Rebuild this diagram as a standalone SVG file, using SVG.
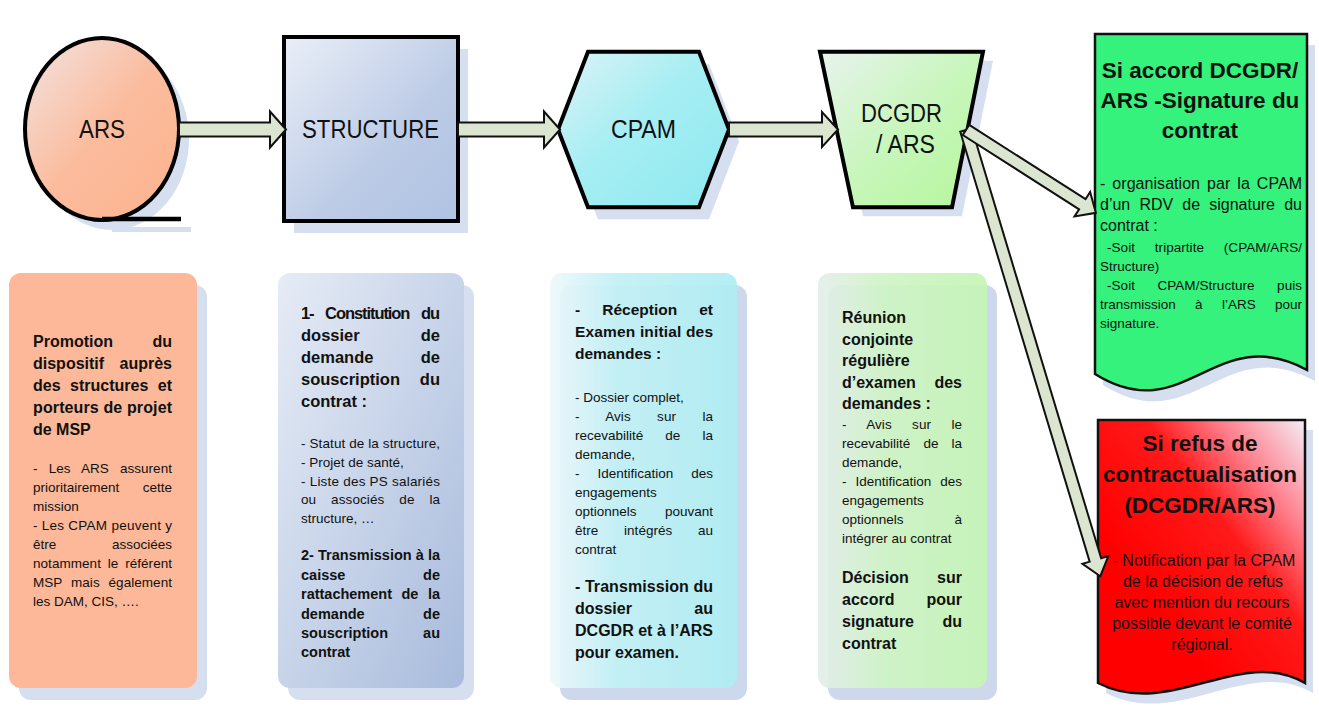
<svg xmlns="http://www.w3.org/2000/svg" width="1319" height="708" viewBox="0 0 1319 708">
<defs>
<linearGradient id="gArs" x1="0" y1="0" x2="1" y2="1"><stop offset="0" stop-color="#f2e4e2"/><stop offset="0.5" stop-color="#fbbc9e"/><stop offset="1" stop-color="#fdb28c"/></linearGradient>
<linearGradient id="gStruct" x1="0" y1="0" x2="1" y2="1"><stop offset="0" stop-color="#eaeff8"/><stop offset="0.6" stop-color="#bccbe6"/><stop offset="1" stop-color="#b0c3e3"/></linearGradient>
<linearGradient id="gCpam" x1="0" y1="0" x2="1" y2="1"><stop offset="0" stop-color="#dcf3f6"/><stop offset="0.45" stop-color="#a6eef3"/><stop offset="1" stop-color="#8ce9ef"/></linearGradient>
<linearGradient id="gDcg" x1="0" y1="0" x2="1" y2="1"><stop offset="0" stop-color="#e8f3ee"/><stop offset="0.5" stop-color="#c8f6bc"/><stop offset="1" stop-color="#b4f79a"/></linearGradient>
<linearGradient id="gBox2" x1="0" y1="0" x2="1" y2="1"><stop offset="0" stop-color="#e6ecf6"/><stop offset="1" stop-color="#a8bbdc"/></linearGradient>
<linearGradient id="gBox3" x1="0" y1="0" x2="1" y2="0"><stop offset="0" stop-color="#eef8fa"/><stop offset="0.35" stop-color="#c2f1f5"/><stop offset="1" stop-color="#aeedf2"/></linearGradient>
<linearGradient id="gBox4" x1="0" y1="0" x2="1" y2="0"><stop offset="0" stop-color="#e4eeea"/><stop offset="0.4" stop-color="#cff4c5"/><stop offset="1" stop-color="#c4f5b5"/></linearGradient>
<linearGradient id="gRed" x1="1" y1="0" x2="0.3" y2="0.7"><stop offset="0" stop-color="#f3eef6"/><stop offset="0.3" stop-color="#ff7e8c"/><stop offset="0.55" stop-color="#ff1a1a"/><stop offset="1" stop-color="#ff0000"/></linearGradient>
</defs>
<style>
text{font-family:"Liberation Sans",Arial,sans-serif;fill:#111}
.sh{fill:#d5dff0}
.n{stroke:#000;stroke-width:4;stroke-linejoin:miter}
.doc{stroke:#111;stroke-width:2.5}
.arr{fill:#dce5cf;stroke:#111;stroke-width:2;stroke-linejoin:miter}
.t{font-size:25.5px}
.h{font-size:22.5px;font-weight:bold;text-anchor:middle}
.b16{font-size:16px;font-weight:bold}
.b165{font-size:16.5px;font-weight:bold}
.b155{font-size:15.5px;font-weight:bold}
.b145{font-size:14.5px;font-weight:bold}
.r{font-size:13.5px}
.g16{font-size:16px}
.rb{font-size:16px;text-anchor:middle}
.e{text-anchor:end}
</style>
<rect width="1319" height="708" fill="#fff"/>

<g id="node-ars">
<ellipse cx="112" cy="139" rx="77" ry="91" class="sh"/>
<path d="M112,229.5 H191" stroke="#d5dff0" stroke-width="5"/>
<ellipse cx="102" cy="129" rx="77" ry="91" fill="url(#gArs)" class="n"/>
<path d="M102,219 H181" stroke="#000" stroke-width="4.5"/>
<text class="t" x="79" y="138.3" textLength="46" lengthAdjust="spacingAndGlyphs">ARS</text>
</g>

<g id="node-structure">
<rect x="294" y="49" width="174" height="184" class="sh"/>
<rect x="284" y="37" width="174" height="184" fill="url(#gStruct)" class="n"/>
<text class="t" x="302" y="138.3" textLength="137" lengthAdjust="spacingAndGlyphs">STRUCTURE</text>
</g>

<g id="node-cpam">
<polygon points="568,141.5 598,63.7 709,63.7 739,141.5 709,219.3 598,219.3" class="sh"/>
<polygon points="558,129.5 588,51.7 699,51.7 729,129.5 699,207.3 588,207.3" fill="url(#gCpam)" class="n"/>
<text class="t" x="611" y="138.3" textLength="65" lengthAdjust="spacingAndGlyphs">CPAM</text>
</g>

<g id="node-dcgdr">
<polygon points="830,60.7 993,60.7 962,216.3 863,216.3" class="sh"/>
<polygon points="820,51.7 983,51.7 952,207.3 853,207.3" fill="url(#gDcg)" class="n"/>
<text class="t" x="861" y="121.7" textLength="81" lengthAdjust="spacingAndGlyphs">DCGDR</text>
<text class="t" x="876" y="153.3" textLength="59" lengthAdjust="spacingAndGlyphs">/ ARS</text>
</g>

<g id="node-accord">
<path d="M1095,34 H1307 V370 C1215,320 1185,430 1095,374 Z" class="sh" transform="translate(8,11)"/>
<path d="M1095,34 H1307 V370 C1215,320 1185,430 1095,374 Z" fill="#34f27c" class="doc"/>
<text class="h" x="1200" y="78">Si accord DCGDR/</text>
<text class="h" x="1200" y="108">ARS -Signature du</text>
<text class="h" x="1200" y="138">contrat</text>
<text class="g16" x="1100" y="189" textLength="202" style="word-spacing:2.5px">- organisation par la CPAM</text>
<text class="g16" x="1100" y="210" textLength="202" style="word-spacing:4.8px">d’un RDV de signature du</text>
<text class="g16" x="1100" y="231">contrat :</text>
<text class="r" x="1107" y="252" textLength="195" style="word-spacing:16px">-Soit tripartite (CPAM/ARS/</text>
<text class="r" x="1100" y="271">Structure)</text>
<text class="r" x="1107" y="290" textLength="195" style="word-spacing:18.7px">-Soit CPAM/Structure puis</text>
<text class="r" x="1100" y="309" textLength="202" style="word-spacing:15.6px">transmission à l’ARS pour</text>
<text class="r" x="1100" y="328">signature.</text>
</g>

<g id="node-refus">
<path d="M1098,420 H1305 V683 C1240,645 1170,720 1098,683 Z" class="sh" transform="translate(8,10)"/>
<path d="M1098,420 H1305 V683 C1240,645 1170,720 1098,683 Z" fill="url(#gRed)" class="doc"/>
<text class="h" x="1200" y="451">Si refus de</text>
<text class="h" x="1200" y="482">contractualisation</text>
<text class="h" x="1200" y="513">(DCGDR/ARS)</text>
<text class="rb" x="1204" y="565.5">- Notification par la CPAM</text>
<text class="rb" x="1203" y="586.5">de la décision de refus</text>
<text class="rb" x="1202" y="607.5">avec mention du recours</text>
<text class="rb" x="1202" y="628.5">possible devant le comité</text>
<text class="rb" x="1202" y="649.5">régional.</text>
</g>

<g id="box-ars">
<rect x="19" y="285" width="188" height="415" rx="12" class="sh"/>
<rect x="9" y="273" width="188" height="415" rx="12" fill="#fcb898"/>
<text class="b16" x="33" y="347">Promotion</text><text class="b16 e" x="172" y="347">du</text>
<text class="b16" x="33" y="369">dispositif</text><text class="b16 e" x="172" y="369">auprès</text>
<text class="b16" x="33" y="391" textLength="139" style="word-spacing:5px">des structures et</text>
<text class="b16" x="33" y="413" textLength="139">porteurs de projet</text>
<text class="b16" x="33" y="435">de MSP</text>
<text class="r" x="33" y="473" textLength="139" style="word-spacing:7.3px">- Les ARS assurent</text>
<text class="r" x="33" y="492">prioritairement</text><text class="r e" x="172" y="492">cette</text>
<text class="r" x="33" y="511">mission</text>
<text class="r" x="33" y="530" textLength="139">- Les CPAM peuvent y</text>
<text class="r" x="33" y="549">être</text><text class="r e" x="172" y="549">associées</text>
<text class="r" x="33" y="568" textLength="139" style="word-spacing:3px">notamment le référent</text>
<text class="r" x="33" y="587" textLength="139" style="word-spacing:5px">MSP mais également</text>
<text class="r" x="33" y="606">les DAM, CIS, ….</text>
</g>

<g id="box-structure">
<rect x="288" y="285" width="186" height="415" rx="12" class="sh"/>
<rect x="278" y="273" width="186" height="415" rx="12" fill="url(#gBox2)"/>
<text class="b165" x="301" y="318.5" textLength="139" style="word-spacing:8px">1- Constitution du</text>
<text class="b165" x="301" y="340.5">dossier</text><text class="b165 e" x="440" y="340.5">de</text>
<text class="b165" x="301" y="362.5">demande</text><text class="b165 e" x="440" y="362.5">de</text>
<text class="b165" x="301" y="384.5">souscription</text><text class="b165 e" x="440" y="384.5">du</text>
<text class="b165" x="301" y="406.5">contrat :</text>
<text class="r" x="301" y="447.5" textLength="139">- Statut de la structure,</text>
<text class="r" x="301" y="466.5">- Projet de santé,</text>
<text class="r" x="301" y="485.5" textLength="139">- Liste des PS salariés</text>
<text class="r" x="301" y="504" textLength="139" style="word-spacing:11px">ou associés de la</text>
<text class="r" x="301" y="522.5">structure, …</text>
<text class="b145" x="301" y="560" textLength="139">2- Transmission à la</text>
<text class="b145" x="301" y="579.5">caisse</text><text class="b145 e" x="440" y="579.5">de</text>
<text class="b145" x="301" y="599" textLength="139" style="word-spacing:5.5px">rattachement de la</text>
<text class="b145" x="301" y="618.5">demande</text><text class="b145 e" x="440" y="618.5">de</text>
<text class="b145" x="301" y="638">souscription</text><text class="b145 e" x="440" y="638">au</text>
<text class="b145" x="301" y="657">contrat</text>
</g>

<g id="box-cpam">
<rect x="560" y="285" width="187" height="415" rx="12" fill="#cdd8ec"/>
<rect x="550" y="273" width="187" height="415" rx="12" fill="url(#gBox3)" fill-opacity="0.93"/>
<text class="b155" x="575" y="315" textLength="138" style="word-spacing:17.8px">- Réception et</text>
<text class="b155" x="575" y="337" textLength="138">Examen initial des</text>
<text class="b155" x="575" y="359">demandes :</text>
<text class="r" x="575" y="401.5">- Dossier complet,</text>
<text class="r" x="575" y="420.5" textLength="138" style="word-spacing:22.5px">- Avis sur la</text>
<text class="r" x="575" y="439.5" textLength="138" style="word-spacing:18.4px">recevabilité de la</text>
<text class="r" x="575" y="458.5">demande,</text>
<text class="r" x="575" y="477.5" textLength="138" style="word-spacing:14.2px">- Identification des</text>
<text class="r" x="575" y="496.5">engagements</text>
<text class="r" x="575" y="515.5">optionnels</text><text class="r e" x="713" y="515.5">pouvant</text>
<text class="r" x="575" y="534.5" textLength="138" style="word-spacing:22px">être intégrés au</text>
<text class="r" x="575" y="553.5">contrat</text>
<text class="b16" x="575" y="592" textLength="138">- Transmission du</text>
<text class="b16" x="575" y="614">dossier</text><text class="b16 e" x="713" y="614">au</text>
<text class="b16" x="575" y="636" textLength="138">DCGDR et à l’ARS</text>
<text class="b16" x="575" y="658">pour examen.</text>
</g>

<g id="box-dcgdr">
<rect x="828" y="285" width="169" height="415" rx="12" fill="#cdd8ec"/>
<rect x="818" y="273" width="169" height="415" rx="12" fill="url(#gBox4)" fill-opacity="0.93"/>
<text class="b16" x="842" y="323">Réunion</text>
<text class="b16" x="842" y="344.5">conjointe</text>
<text class="b16" x="842" y="366">régulière</text>
<text class="b16" x="842" y="387.5">d’examen</text><text class="b16 e" x="962" y="387.5">des</text>
<text class="b16" x="842" y="409">demandes :</text>
<text class="r" x="842" y="428.5" textLength="120" style="word-spacing:16.5px">- Avis sur le</text>
<text class="r" x="842" y="447.5" textLength="120" style="word-spacing:9.3px">recevabilité de la</text>
<text class="r" x="842" y="466.5">demande,</text>
<text class="r" x="842" y="485.5" textLength="120" style="word-spacing:5.2px">- Identification des</text>
<text class="r" x="842" y="504.5">engagements</text>
<text class="r" x="842" y="523.5">optionnels</text><text class="r e" x="962" y="523.5">à</text>
<text class="r" x="842" y="542.5">intégrer au contrat</text>
<text class="b16" x="842" y="583">Décision</text><text class="b16 e" x="962" y="583">sur</text>
<text class="b16" x="842" y="605">accord</text><text class="b16 e" x="962" y="605">pour</text>
<text class="b16" x="842" y="627">signature</text><text class="b16 e" x="962" y="627">du</text>
<text class="b16" x="842" y="649">contrat</text>
</g>

<g id="connectors">
<path class="arr" d="M179,122.5 H270 V111.5 L286,129.5 L270,147.5 V136.5 H179 Z"/>
<path class="arr" d="M458,122.5 H544 V111.5 L560,129.5 L544,147.5 V136.5 H458 Z"/>
<path class="arr" d="M729,122.5 H822 V112 L838,129.5 L822,147 V136.5 H729 Z"/>
<path class="arr" transform="translate(966,130) rotate(73.25)" d="M0,-6 H449 V-13.5 L466,0 L449,13.5 V6 H0 Z"/>
<path class="arr" transform="translate(966,130) rotate(32.55)" d="M0,-6 H138 V-14.5 L154,0 L138,14.5 V6 H0 Z"/>
</g>
</svg>
